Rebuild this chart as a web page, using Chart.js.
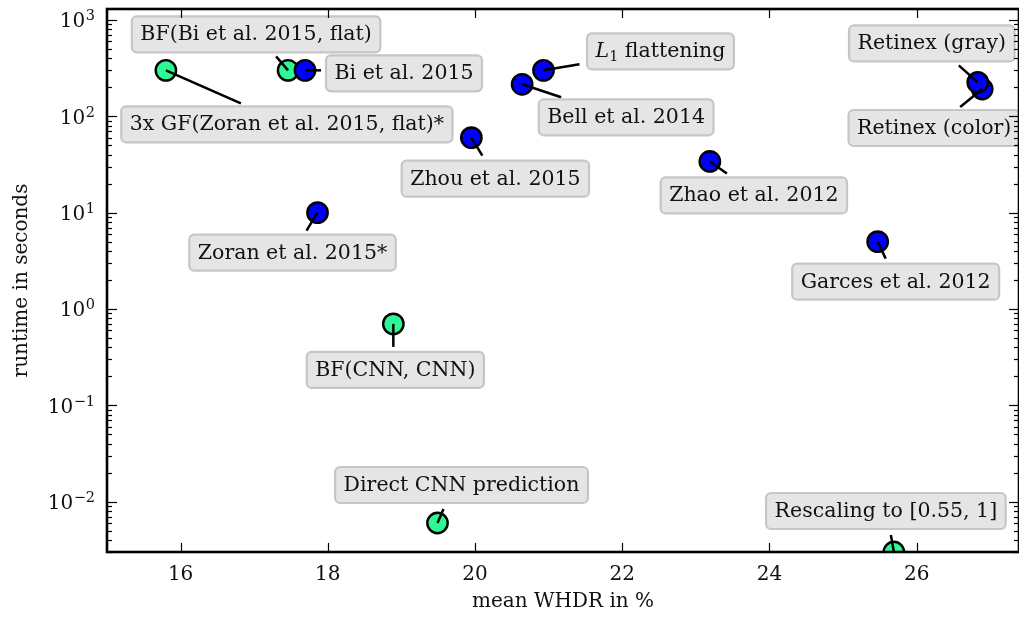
<!DOCTYPE html>
<html><head><meta charset="utf-8">
<script src="https://cdn.jsdelivr.net/npm/chart.js@4/dist/chart.umd.min.js"></script>
<style>html,body{margin:0;padding:0;background:#fff;overflow:hidden}#wrap{width:1019px;height:619px;position:relative}</style>
</head><body><div id="wrap"><canvas id="c" width="1019" height="619"></canvas></div>
<script>
// ---- data ----
const blueNames = ['Zoran et al. 2015*', 'Bi et al. 2015', 'Zhou et al. 2015', 'Bell et al. 2014', 'L₁ flattening', 'Zhao et al. 2012', 'Garces et al. 2012', 'Retinex (color)', 'Retinex (gray)'];
const blueX = [17.86, 17.69, 19.95, 20.64, 20.93, 23.19, 25.47, 26.89, 26.83];
const blueY = [10, 300, 60, 215, 300, 34, 5, 192, 225];
const greenNames = ['3x GF(Zoran et al. 2015, flat)*', 'BF(Bi et al. 2015, flat)', 'BF(CNN, CNN)', 'Direct CNN prediction', 'Rescaling to [0.55, 1]'];
const greenX = [15.80, 17.46, 18.89, 19.49, 25.69];
const greenY = [300, 300, 0.7, 0.006, 0.003];
const xTickValues = [16, 18, 20, 22, 24, 26];
const xTickLabels = ['16', '18', '20', '22', '24', '26'];
const yTickValues = [0.01, 0.1, 1, 10, 100, 1000];
const yTickExponents = ['−2', '−1', '0', '1', '2', '3'];
const xTitle = 'mean WHDR in %';
const yTitle = 'runtime in seconds';

// ---- annotation layout (pixel offsets from each point: box centre dx,dy ; leader end dx,dy) ----
const labelLayout = {
  'BF(Bi et al. 2015, flat)': [-32, -36, -12, -14],
  'Bi et al. 2015': [99, 3, 16, 0],
  '3x GF(Zoran et al. 2015, flat)*': [121, 54, 75, 33],
  'Zhou et al. 2015': [24, 41, 11, 18],
  'L₁ flattening': [117, -19, 36, -6],
  'Bell et al. 2014': [104, 33, 39, 13],
  'Zhao et al. 2012': [44, 34, 17, 12],
  'Retinex (gray)': [-46, -39, -19, -17],
  'Retinex (color)': [-48, 39, -22, 18],
  'Zoran et al. 2015*': [-25, 40, -11, 18],
  'Garces et al. 2012': [18, 40, 8, 17],
  'BF(CNN, CNN)': [2, 46, 0, 23],
  'Direct CNN prediction': [24, -38, 6, -14],
  'Rescaling to [0.55, 1]': [-8, -41, -3, -17]
};

const FONT = '"DejaVu Serif", serif';
const BLUE = '#0000ff';
const GREEN = '#2ef795';
const TXT = '#111';
const LSIZE = 20.5;

function toPts(xs, ys) { return xs.map((x, i) => ({x: x, y: ys[i]})); }

function labelParts(name) {
  if (name.startsWith('L₁')) {
    return [{t: 'L', f: 'italic ' + LSIZE + 'px ' + FONT, dy: 0},
            {t: '1', f: (LSIZE * 0.7) + 'px ' + FONT, dy: 3.5},
            {t: name.slice(2), f: LSIZE + 'px ' + FONT, dy: 0}];
  }
  return [{t: name, f: LSIZE + 'px ' + FONT, dy: 0}];
}
function measureParts(ctx, parts) {
  let w = 0;
  for (const p of parts) { ctx.font = p.f; p.w = ctx.measureText(p.t).width; w += p.w; }
  return w;
}

const annotatePlugin = {
  id: 'annotate',
  afterDatasetsDraw(chart) {
    const ctx = chart.ctx;
    const xs = chart.scales.x, ys = chart.scales.y;
    const items = [];
    [[blueNames, blueX, blueY], [greenNames, greenX, greenY]].forEach(([n, X, Y]) => {
      n.forEach((name, i) => items.push({name, px: xs.getPixelForValue(X[i]), py: ys.getPixelForValue(Y[i])}));
    });
    ctx.save();
    ctx.strokeStyle = '#000';
    ctx.lineWidth = 2.5;
    for (const it of items) {
      const L = labelLayout[it.name];
      ctx.beginPath();
      ctx.moveTo(it.px, it.py);
      ctx.lineTo(it.px + L[2], it.py + L[3]);
      ctx.stroke();
    }
    for (const it of items) {
      const L = labelLayout[it.name];
      const cx = it.px + L[0], cy = it.py + L[1];
      const parts = labelParts(it.name);
      const tw = measureParts(ctx, parts);
      const w = tw + 17, h = 36;
      ctx.beginPath();
      ctx.roundRect(cx - w / 2, cy - h / 2, w, h, 5);
      ctx.fillStyle = '#e5e5e5';
      ctx.fill();
      ctx.strokeStyle = '#c6c6c6';
      ctx.lineWidth = 2.2;
      ctx.stroke();
      ctx.fillStyle = TXT;
      ctx.textAlign = 'left';
      ctx.textBaseline = 'alphabetic';
      let x = cx - tw / 2;
      for (const p of parts) { ctx.font = p.f; ctx.fillText(p.t, x, cy + 6 + p.dy); x += p.w; }
    }
    ctx.restore();
  },
  afterDraw(chart) {
    const ctx = chart.ctx, ca = chart.chartArea;
    const xs = chart.scales.x, ys = chart.scales.y;
    ctx.save();
    ctx.strokeStyle = '#000';
    ctx.lineWidth = 1.2;
    const seg = (a, b, c, d) => { ctx.beginPath(); ctx.moveTo(a, b); ctx.lineTo(c, d); ctx.stroke(); };
    for (const v of xTickValues) {
      const p = Math.round(xs.getPixelForValue(v)) + 0.5;
      seg(p, ca.bottom, p, ca.bottom - 9);
      seg(p, ca.top, p, ca.top + 9);
    }
    for (let e = -3; e <= 3; e++) {
      for (let s = 1; s <= 9; s++) {
        const v = s * Math.pow(10, e);
        if (v < ys.min || v > ys.max) continue;
        const p = Math.round(ys.getPixelForValue(v)) + 0.5;
        const len = s === 1 ? 10 : 5;
        seg(ca.left, p, ca.left + len, p);
        seg(ca.right, p, ca.right - len, p);
      }
    }
    ctx.lineWidth = 2.6;
    ctx.strokeRect(ca.left, ca.top, ca.right - ca.left, ca.bottom - ca.top);

    // tick labels
    ctx.fillStyle = TXT;
    ctx.textBaseline = 'alphabetic';
    ctx.font = '20px ' + FONT;
    ctx.textAlign = 'center';
    xTickValues.forEach((v, i) => ctx.fillText(xTickLabels[i], xs.getPixelForValue(v), ca.bottom + 28));
    yTickValues.forEach((v, i) => {
      const py = ys.getPixelForValue(v);
      ctx.font = '14.5px ' + FONT;
      const ew = ctx.measureText(yTickExponents[i]).width;
      ctx.textAlign = 'right';
      ctx.fillText(yTickExponents[i], ca.left - 12, py + 0.5);
      ctx.font = '20px ' + FONT;
      ctx.fillText('10', ca.left - 12 - ew - 0.5, py + 7.4);
    });
    // axis titles
    ctx.font = '20px ' + FONT;
    ctx.textAlign = 'center';
    ctx.fillText(xTitle, (ca.left + ca.right) / 2, 607);
    ctx.save();
    ctx.translate(27, (ca.top + ca.bottom) / 2);
    ctx.rotate(-Math.PI / 2);
    ctx.fillText(yTitle, 0, 0);
    ctx.restore();
    ctx.restore();
  }
};

Chart.defaults.font.family = FONT;

const zeroPad = s => { s.paddingLeft = 0; s.paddingRight = 0; s.paddingTop = 0; s.paddingBottom = 0; };

new Chart(document.getElementById('c'), {
  type: 'scatter',
  data: {
    datasets: [
      {label: 'blue', data: toPts(blueX, blueY), backgroundColor: BLUE, borderColor: '#000', borderWidth: 2.4, pointRadius: 10.2, clip: 0},
      {label: 'green', data: toPts(greenX, greenY), backgroundColor: GREEN, borderColor: '#000', borderWidth: 2.4, pointRadius: 10.2, clip: 0}
    ]
  },
  options: {
    responsive: false,
    animation: false,
    events: [],
    devicePixelRatio: 1,
    layout: {autoPadding: false, padding: {left: 0, top: 9, right: -1, bottom: 0}},
    plugins: {legend: {display: false}, tooltip: {enabled: false}},
    scales: {
      x: {
        type: 'linear', min: 15, max: 27.39,
        grid: {display: false, drawTicks: false},
        border: {display: false},
        ticks: {display: false},
        title: {display: false},
        afterFit: s => { s.height = 67; zeroPad(s); }
      },
      y: {
        type: 'logarithmic', min: 0.003, max: 1300,
        grid: {display: false, drawTicks: false},
        border: {display: false},
        ticks: {display: false},
        title: {display: false},
        afterFit: s => { s.width = 107; zeroPad(s); }
      }
    }
  },
  plugins: [annotatePlugin]
});
</script>
</body></html>
